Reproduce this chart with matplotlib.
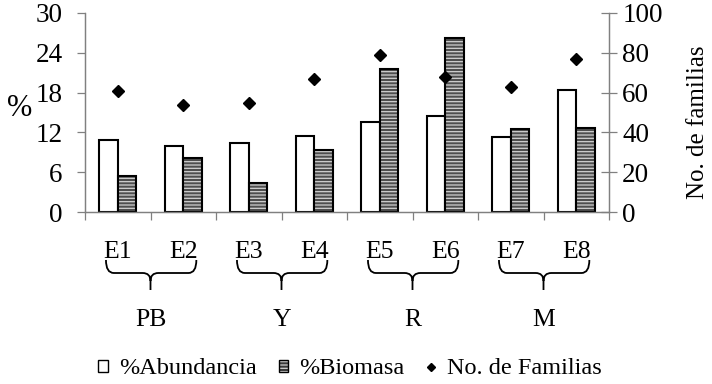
import matplotlib
matplotlib.use('Agg')
from matplotlib import pyplot as plt
from matplotlib.path import Path
from matplotlib.patches import PathPatch, Patch
from matplotlib.lines import Line2D
from matplotlib.transforms import blended_transform_factory
import numpy as np

# datos
estaciones = ['E1', 'E2', 'E3', 'E4', 'E5', 'E6', 'E7', 'E8']
grupos = ['PB', 'Y', 'R', 'M']
abundancia = [10.8, 10.0, 10.4, 11.4, 13.5, 14.4, 11.3, 18.4]
biomasa = [5.5, 8.2, 4.3, 9.4, 21.5, 26.3, 12.5, 12.7]
familias = [61, 54, 55, 67, 79, 68, 63, 77]
ticks_pct = [0, 6, 12, 18, 24, 30]
ticks_fam = [0, 20, 40, 60, 80, 100]

plt.rcParams['font.family'] = ['Liberation Serif', 'DejaVu Serif']
plt.rcParams['hatch.color'] = '#d0d0d0'
plt.rcParams['hatch.linewidth'] = 0.9

W, H = 712, 384
fs = 18.5
fig = plt.figure(figsize=(W / 100, H / 100), dpi=100)
ax = fig.add_axes([85 / W, 1 - 212 / H, 524 / W, 199 / H])
ax2 = ax.twinx()

x = np.arange(len(estaciones))
bw = 0.28
gris = '#808080'

ax.bar(x - bw / 2, abundancia, bw, color='white', edgecolor='black', linewidth=1.5, zorder=2)
# relleno rayado y contorno por separado para que las rayas sean claras
ax.bar(x + bw / 2, biomasa, bw, color='#4e4e4e', edgecolor=None, hatch='-----', linewidth=0, zorder=2)
ax.bar(x + bw / 2, biomasa, bw, fill=False, edgecolor='black', linewidth=1.5, zorder=3)

ax2.plot(x, familias, linestyle='none', marker='D', markersize=6.4, color='black', zorder=4)

ax.set_xlim(-0.5, len(estaciones) - 0.5)
ax.set_ylim(0, 30)
ax2.set_ylim(0, 100)
ax.set_yticks(ticks_pct)
ax2.set_yticks(ticks_fam)

for a in (ax, ax2):
    a.spines['top'].set_visible(False)
    for s in ['left', 'right', 'bottom']:
        a.spines[s].set_color(gris)
        a.spines[s].set_linewidth(0.9)

# ticks en los limites de categoria, etiquetas en el centro
ax.set_xticks(np.arange(-0.5, len(estaciones)), labels=[''] * (len(estaciones) + 1))
ax.set_xticks(x, labels=estaciones, minor=True)
ax.tick_params(axis='x', which='major', direction='out', length=6, color=gris, width=0.9)
ax.tick_params(axis='x', which='minor', length=0, pad=21, labelsize=fs)
ax.tick_params(axis='y', direction='out', length=6, color=gris, width=0.9, pad=10, labelsize=fs + 1)
ax2.tick_params(axis='y', direction='inout', length=11, color=gris, width=0.9, pad=4, labelsize=fs + 1)

ax.set_ylabel('%', rotation=0, fontsize=22, va='center', ha='center')
ax.yaxis.set_label_coords(-0.124, 0.52)
ax2.set_ylabel('No. de familias', fontsize=18, rotation=90, va='center', ha='center')
ax2.yaxis.set_label_coords(1.17, 0.45)

# llaves que agrupan las estaciones
tr = blended_transform_factory(ax.transData, fig.transFigure)
def fy(py):
    return 1 - py / H

r = 0.12
for g, nombre in enumerate(grupos):
    xl = 2 * g - 0.18
    xr = 2 * g + 1 + 0.2
    xm = 2 * g + 0.5
    verts = [(xl, fy(260)), (xl, fy(273)), (xl + r, fy(273)),
             (xm - r, fy(273)), (xm, fy(273)), (xm, fy(281)),
             (xm, fy(290)),
             (xm, fy(281)), (xm, fy(273)), (xm + r, fy(273)),
             (xr - r, fy(273)), (xr, fy(273)), (xr, fy(260))]
    codes = [Path.MOVETO, Path.CURVE3, Path.CURVE3,
             Path.LINETO, Path.CURVE3, Path.CURVE3,
             Path.LINETO,
             Path.MOVETO, Path.CURVE3, Path.CURVE3,
             Path.LINETO, Path.CURVE3, Path.CURVE3]
    ax.add_patch(PathPatch(Path(verts, codes), transform=tr, fill=False,
                           edgecolor='black', linewidth=1.3, clip_on=False))
    ax.text(xm, fy(320), nombre, transform=tr, ha='center', va='center', fontsize=fs)

handles = [Patch(facecolor='white', edgecolor='black', linewidth=1.0),
           (Patch(facecolor='#3a3a3a', hatch='-----', linewidth=0),
            Patch(fill=False, edgecolor='black', linewidth=1.0)),
           Line2D([], [], linestyle='none', marker='D', markersize=4, color='black')]
fig.legend(handles, ['%Abundancia', '%Biomasa', 'No. de Familias'],
           loc='center', bbox_to_anchor=(350 / W, fy(369)), ncol=3, frameon=False,
           fontsize=17.5, handlelength=0.4, handleheight=0.4, handletextpad=0.45,
           columnspacing=0.9, borderpad=0)

fig.savefig('out.png', dpi=100)
